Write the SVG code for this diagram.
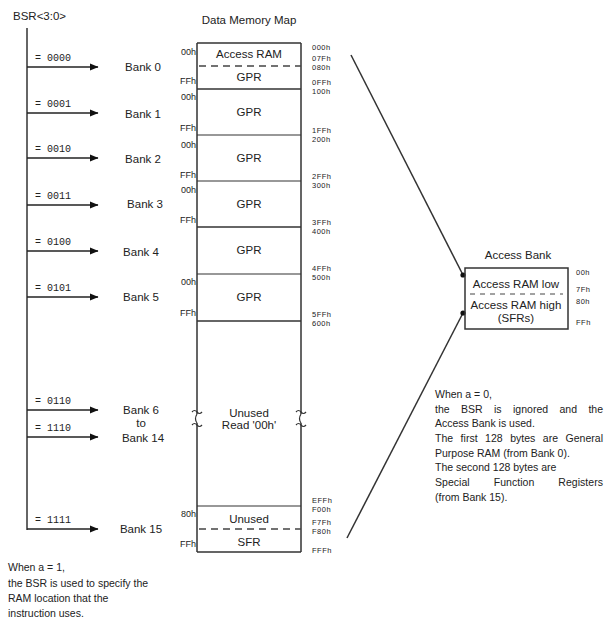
<svg xmlns="http://www.w3.org/2000/svg" width="607" height="618" viewBox="0 0 607 618">
<style>
text{font-family:"Liberation Sans",Arial,sans-serif;fill:#222}
.lbl{font-size:11.5px}
.mid{text-anchor:middle}
.end{text-anchor:end}
.hex{font-size:7.5px;letter-spacing:0.5px}
.hexl{font-size:9px;text-anchor:end}
.bin{font-family:"Liberation Mono",monospace;font-size:10px}
.body{font-size:10.5px}
.ln{stroke:#333;stroke-width:1.5;fill:none}
.thin{stroke:#333;stroke-width:1.2;fill:none}
.dash{stroke:#444;stroke-width:1.5;stroke-dasharray:7,5;fill:none}
.arr{stroke:#222;stroke-width:1.5;fill:none;marker-end:url(#ah)}
</style>
<defs>
<marker id="ah" markerUnits="userSpaceOnUse" markerWidth="9" markerHeight="8" refX="8" refY="4" orient="auto">
<path d="M0,0.5 L8.5,4 L0,7.5 z" fill="#111"/>
</marker>
</defs>
<rect width="607" height="618" fill="#fff"/>

<g id="bsr">
<text class="lbl" x="13" y="20">BSR&lt;3:0&gt;</text>
</g>

<g id="connectors">
<line class="ln" x1="27" y1="28" x2="27" y2="530"/>
<line class="arr" x1="27" y1="67" x2="98" y2="67"/>
<line class="arr" x1="27" y1="113" x2="98" y2="113"/>
<line class="arr" x1="27" y1="158" x2="98" y2="158"/>
<line class="arr" x1="27" y1="205" x2="98" y2="205"/>
<line class="arr" x1="27" y1="251" x2="98" y2="251"/>
<line class="arr" x1="27" y1="297" x2="98" y2="297"/>
<line class="arr" x1="27" y1="410" x2="98" y2="410"/>
<line class="arr" x1="27" y1="437" x2="98" y2="437"/>
<line class="arr" x1="27" y1="529" x2="98" y2="529"/>
<line class="ln" x1="351" y1="55" x2="463" y2="275"/>
<circle cx="463" cy="275" r="2.6" fill="#111"/>
<line class="ln" x1="347" y1="538" x2="463" y2="313"/>
<circle cx="463" cy="313" r="2.6" fill="#111"/>
</g>

<g id="select-labels">
<text class="bin" x="35" y="61">= 0000</text>
<text class="bin" x="35" y="107">= 0001</text>
<text class="bin" x="35" y="152">= 0010</text>
<text class="bin" x="35" y="199">= 0011</text>
<text class="bin" x="35" y="245">= 0100</text>
<text class="bin" x="35" y="291">= 0101</text>
<text class="bin" x="35" y="404">= 0110</text>
<text class="bin" x="35" y="431">= 1110</text>
<text class="bin" x="35" y="523">= 1111</text>
</g>

<g id="bank-labels">
<text class="lbl mid" x="143" y="71">Bank 0</text>
<text class="lbl mid" x="143" y="118">Bank 1</text>
<text class="lbl mid" x="143" y="163">Bank 2</text>
<text class="lbl mid" x="145" y="208">Bank 3</text>
<text class="lbl mid" x="141" y="256">Bank 4</text>
<text class="lbl mid" x="141" y="301">Bank 5</text>
<text class="lbl mid" x="141" y="414">Bank 6</text>
<text class="lbl mid" x="141" y="427">to</text>
<text class="lbl mid" x="143" y="442">Bank 14</text>
<text class="lbl mid" x="141" y="533">Bank 15</text>
</g>

<g id="memory-map">
<text class="lbl mid" x="249" y="24">Data Memory Map</text>
<path class="ln" d="M197,43 H301 M197,43 V414 M301,43 V414 M197,423 V552 M301,423 V552 M197,552 H301"/>
<path class="thin" d="M192,412 q2.5,-3 5,0 t5,0 M192,425 q2.5,-3 5,0 t5,0 M296,412 q2.5,-3 5,0 t5,0 M296,425 q2.5,-3 5,0 t5,0"/>
<path class="thin" d="M197,414 q-3,5 0,9 M301,414 q-3,5 0,9"/>
<line class="dash" x1="199" y1="66" x2="301" y2="66"/>
<line class="ln" x1="197" y1="89" x2="301" y2="89" stroke-width="2.2"/>
<line class="thin" x1="197" y1="135" x2="301" y2="135"/>
<line class="thin" x1="197" y1="181" x2="301" y2="181"/>
<line class="ln" x1="197" y1="227" x2="301" y2="227" stroke-width="2"/>
<line class="thin" x1="197" y1="274" x2="301" y2="274"/>
<line class="ln" x1="197" y1="321" x2="301" y2="321" stroke-width="2"/>
<line class="thin" x1="197" y1="506" x2="301" y2="506"/>
<line class="dash" x1="199" y1="529" x2="301" y2="529"/>

<text class="lbl mid" x="249" y="58">Access RAM</text>
<text class="lbl mid" x="249" y="81">GPR</text>
<text class="lbl mid" x="249" y="116">GPR</text>
<text class="lbl mid" x="249" y="162">GPR</text>
<text class="lbl mid" x="249" y="208">GPR</text>
<text class="lbl mid" x="249" y="254">GPR</text>
<text class="lbl mid" x="249" y="301">GPR</text>
<text class="lbl mid" x="249" y="417">Unused</text>
<text class="lbl mid" x="249" y="429">Read '00h'</text>
<text class="lbl mid" x="249" y="523">Unused</text>
<text class="lbl mid" x="249" y="546">SFR</text>

<text class="hexl" x="196" y="55">00h</text>
<text class="hexl" x="196" y="84">FFh</text>
<text class="hexl" x="196" y="100">00h</text>
<text class="hexl" x="196" y="131">FFh</text>
<text class="hexl" x="196" y="148">00h</text>
<text class="hexl" x="196" y="178">FFh</text>
<text class="hexl" x="196" y="193">00h</text>
<text class="hexl" x="196" y="223">FFh</text>
<text class="hexl" x="196" y="285">00h</text>
<text class="hexl" x="196" y="316">FFh</text>
<text class="hexl" x="196" y="517">80h</text>
<text class="hexl" x="196" y="547">FFh</text>

<text class="hex" x="312" y="50">000h</text>
<text class="hex" x="312" y="61">07Fh</text>
<text class="hex" x="312" y="70">080h</text>
<text class="hex" x="312" y="85">0FFh</text>
<text class="hex" x="312" y="94">100h</text>
<text class="hex" x="312" y="133">1FFh</text>
<text class="hex" x="312" y="142">200h</text>
<text class="hex" x="312" y="179">2FFh</text>
<text class="hex" x="312" y="188">300h</text>
<text class="hex" x="312" y="225">3FFh</text>
<text class="hex" x="312" y="234">400h</text>
<text class="hex" x="312" y="271">4FFh</text>
<text class="hex" x="312" y="280">500h</text>
<text class="hex" x="312" y="317">5FFh</text>
<text class="hex" x="312" y="326">600h</text>
<text class="hex" x="312" y="503">EFFh</text>
<text class="hex" x="312" y="512">F00h</text>
<text class="hex" x="312" y="525">F7Fh</text>
<text class="hex" x="312" y="534">F80h</text>
<text class="hex" x="312" y="553">FFFh</text>
</g>

<g id="access-bank">
<text class="lbl mid" x="518" y="259">Access Bank</text>
<rect x="465" y="268" width="103" height="61" fill="none" stroke="#333" stroke-width="1.5"/>
<line x1="470" y1="294" x2="563" y2="294" stroke="#444" stroke-width="1" stroke-dasharray="5,5"/>
<text class="lbl mid" x="516" y="288">Access RAM low</text>
<text class="lbl mid" x="516" y="309">Access RAM high</text>
<text class="lbl mid" x="516" y="322">(SFRs)</text>
<text class="hex" x="576" y="275">00h</text>
<text class="hex" x="576" y="292">7Fh</text>
<text class="hex" x="576" y="304">80h</text>
<text class="hex" x="576" y="325">FFh</text>
</g>

<g id="note-a0">
<text class="body" x="435" y="398">When a = 0,</text>
<text class="body" x="435" y="413" word-spacing="8.5" textLength="168" lengthAdjust="spacing">the BSR is ignored and the</text>
<text class="body" x="435" y="427">Access Bank is used.</text>
<text class="body" x="435" y="442" word-spacing="4.5" textLength="168" lengthAdjust="spacing">The first 128 bytes are General</text>
<text class="body" x="435" y="457">Purpose RAM (from Bank 0).</text>
<text class="body" x="435" y="471">The second 128 bytes are</text>
<text class="body" x="435" y="486" word-spacing="21" textLength="168" lengthAdjust="spacing">Special Function Registers</text>
<text class="body" x="435" y="501">(from Bank 15).</text>
</g>

<g id="note-a1">
<text class="body" x="8" y="571" font-size="11">When a = 1,</text>
<text class="body" x="8" y="587" font-size="11">the BSR is used to specify the</text>
<text class="body" x="8" y="602" font-size="11">RAM location that the</text>
<text class="body" x="8" y="617" font-size="11">instruction uses.</text>
</g>
</svg>
